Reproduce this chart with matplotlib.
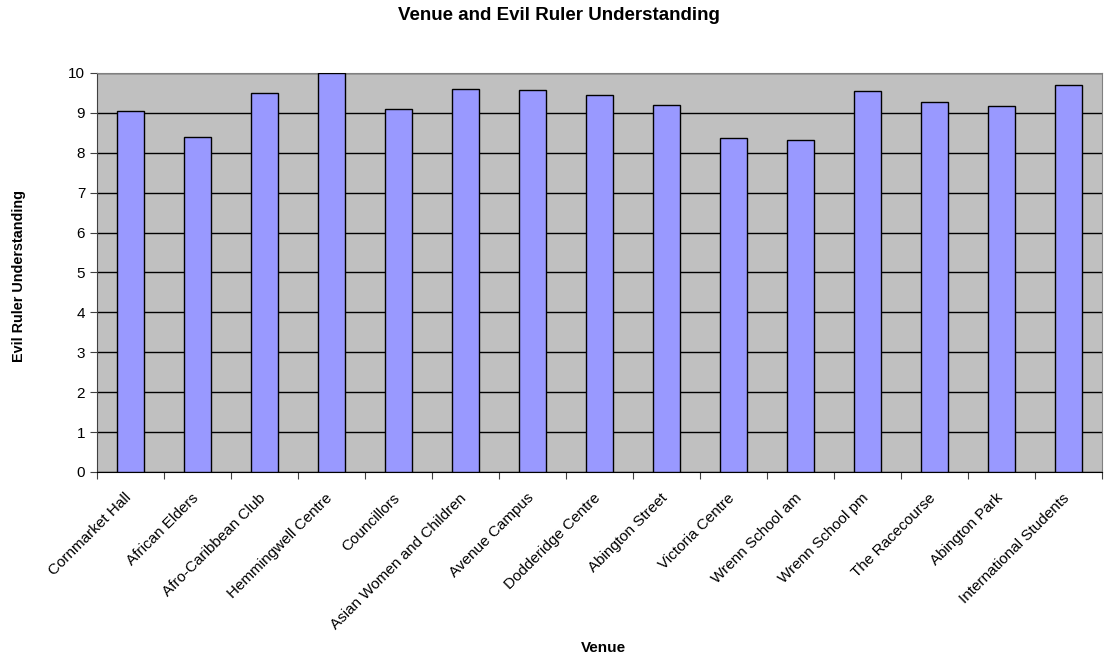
import numpy as np
import matplotlib
matplotlib.use('Agg')
import matplotlib.pyplot as plt
import matplotlib.transforms as mtrans

plt.rcParams['font.family'] = ['Liberation Sans', 'DejaVu Sans']

## Data
venues = ['Cornmarket Hall', 'African Elders', 'Afro-Caribbean Club', 'Hemmingwell Centre',
          'Councillors', 'Asian Women and Children', 'Avenue Campus', 'Dodderidge Centre',
          'Abington Street', 'Victoria Centre', 'Wrenn School am', 'Wrenn School pm',
          'The Racecourse', 'Abington Park', 'International Students']
scores = [9.04, 8.40, 9.50, 10.0, 9.09, 9.60, 9.57, 9.46,
          9.21, 8.37, 8.31, 9.54, 9.27, 9.18, 9.71]

fig = plt.figure(figsize=(11.12, 6.57), dpi=100)
ax = fig.add_axes([0.0872, 0.2816, 0.9038, 0.6073])

x = np.arange(len(venues))
ax.set_facecolor('#C0C0C0')
ax.bar(x, scores, width=0.4, color='#9999FF', edgecolor='black', linewidth=1, zorder=3)

ax.set_xlim(-0.5, len(venues) - 0.5)
ax.set_ylim(0, 10)
ax.set_yticks(range(0, 11))
ax.yaxis.grid(True, color='black', linewidth=1, zorder=1)
ax.set_axisbelow(True)

# ticks at category boundaries, labels at centres
ax.set_xticks(np.arange(-0.5, len(venues), 1))
ax.set_xticklabels([])
ax.set_xticks(x, minor=True)
ax.set_xticklabels(venues, minor=True, rotation=45, ha='right', rotation_mode='anchor', fontsize=11)
ax.tick_params(axis='x', which='minor', length=0, pad=13.5)
ax.tick_params(axis='x', which='major', length=5, direction='out', color='#404040')
ax.tick_params(axis='y', length=5, direction='out', labelsize=11, color='#404040')
shift = mtrans.ScaledTranslation(-6 / 100, 0, fig.dpi_scale_trans)
for lbl in ax.get_xticklabels(minor=True):
    lbl.set_transform(lbl.get_transform() + shift)

for s in ['top', 'right']:
    ax.spines[s].set_color('#808080')
ax.spines['left'].set_color('#404040')
ax.spines['bottom'].set_color('black')

fig.text(19 / 1112, 0.58, 'Evil Ruler Understanding', rotation=90, ha='center', va='center',
         fontsize=10.4, fontweight='bold')
fig.text(0.543, 0.008, 'Venue', ha='center', fontsize=11, fontweight='bold')
fig.suptitle('Venue and Evil Ruler Understanding', x=0.503, y=0.99, fontsize=13.5, fontweight='bold')

fig.savefig('out.png', dpi=100)
